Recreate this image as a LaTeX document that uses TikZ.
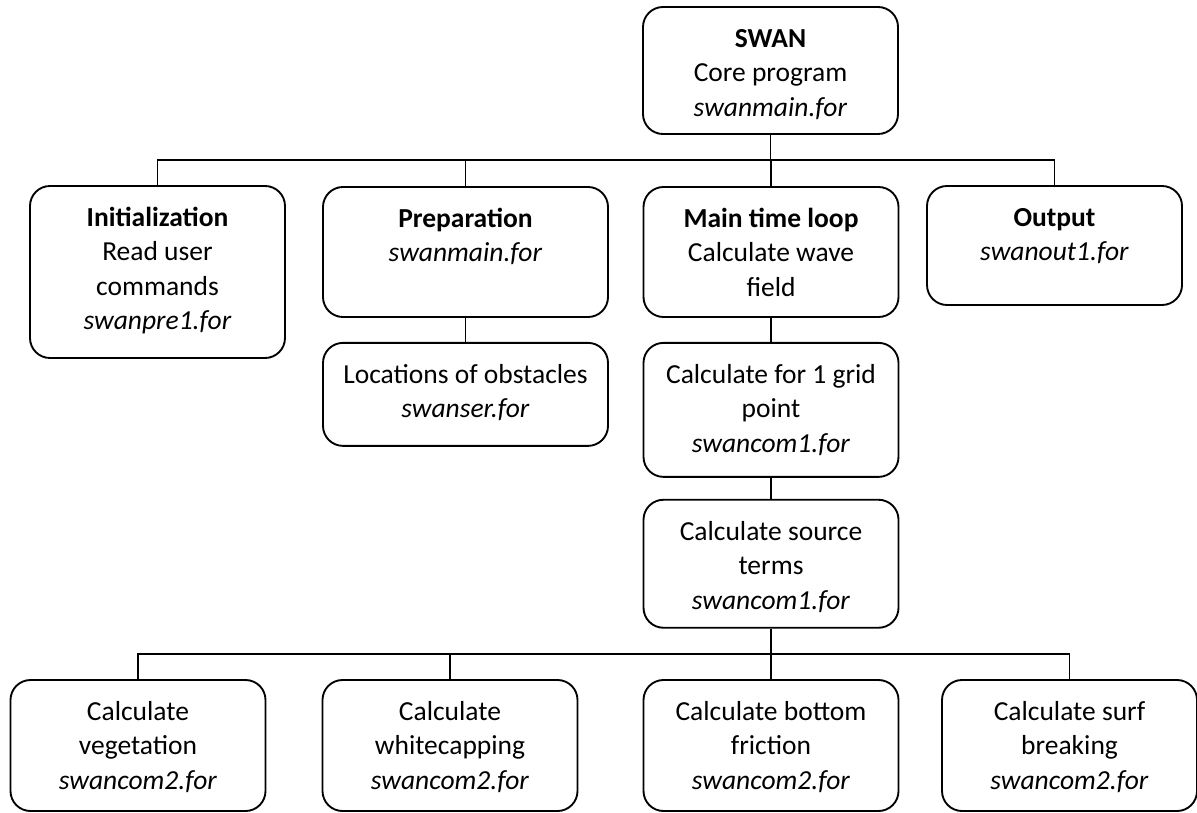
\documentclass[tikz,border=0pt]{standalone}
\usepackage{fontspec}
\setmainfont{Carlito}
\usetikzlibrary{positioning, calc}

\newcommand{\stagebody}[3][96pt]{\parbox[t][#2][t]{#1}{\centering\strut #3}}

\begin{document}
\begin{tikzpicture}[x=0.4pt, y=-0.4pt, font=\fontsize{11}{13.8}\selectfont,
		stage/.style={draw, line width=0.75pt, rounded corners=8pt, inner xsep=3pt, inner ysep=6.5pt},
		link/.style={line width=0.75pt}]
	\useasboundingbox (0,0) rectangle (1197,812);
	% core program
	\node[stage] (swan) at (770.5,70.5) {\stagebody{37.8pt}{\textbf{SWAN}\\ Core program\\ \textit{swanmain.for}}};
	% first level
	\node[stage] (init) at (157.5,272) {\stagebody{55.8pt}{\textbf{Initialization}\\ Read user\\ commands\\ \textit{swanpre1.for}}};
	\node[stage] (prep) at (465.5,252) {\stagebody[108pt]{39pt}{\textbf{Preparation}\\ \textit{swanmain.for}}};
	\node[stage] (main) at (771,252) {\stagebody{39pt}{\textbf{Main time loop}\\ Calculate wave\\ field}};
	\node[stage] (out) at (1054.5,245.5) {\stagebody{34.6pt}{\textbf{Output}\\ \textit{swanout1.for}}};
	\node[stage, below=9.6pt of prep] (loc) {\stagebody[108pt]{28.2pt}{Locations of obstacles\\ \textit{swanser.for}}};
	\node[stage, below=9.6pt of main] (grid) {\stagebody{40.6pt}{Calculate for 1 grid\\ point\\ \textit{swancom1.for}}};
	\node[stage, below=8.4pt of grid] (source) {\stagebody{38.2pt}{Calculate source\\ terms\\ \textit{swancom1.for}}};
	% source terms
	\node[stage] (veg) at (138,745.5) {\stagebody{39.4pt}{Calculate\\ vegetation\\ \textit{swancom2.for}}};
	\node[stage] (white) at (450,745.5) {\stagebody{39.4pt}{Calculate\\ whitecapping\\ \textit{swancom2.for}}};
	\node[stage] (fric) at (771,745.5) {\stagebody{39.4pt}{Calculate bottom\\ friction\\ \textit{swancom2.for}}};
	\node[stage] (surf) at (1069.5,745.5) {\stagebody{39.4pt}{Calculate surf\\ breaking\\ \textit{swancom2.for}}};
	% connectors
	\foreach \n in {init,prep,main,out}
	\draw[link] (swan.south) |- ($(swan.south)!0.5!(\n.north)$) -| (\n.north);
	\foreach \n in {veg,white,fric,surf}
	\draw[link] (source.south) |- ($(source.south)!0.5!(\n.north)$) -| (\n.north);
	\draw[link] (prep) -- (loc);
	\draw[link] (main) -- (grid);
	\draw[link] (grid) -- (source);
\end{tikzpicture}
\end{document}
